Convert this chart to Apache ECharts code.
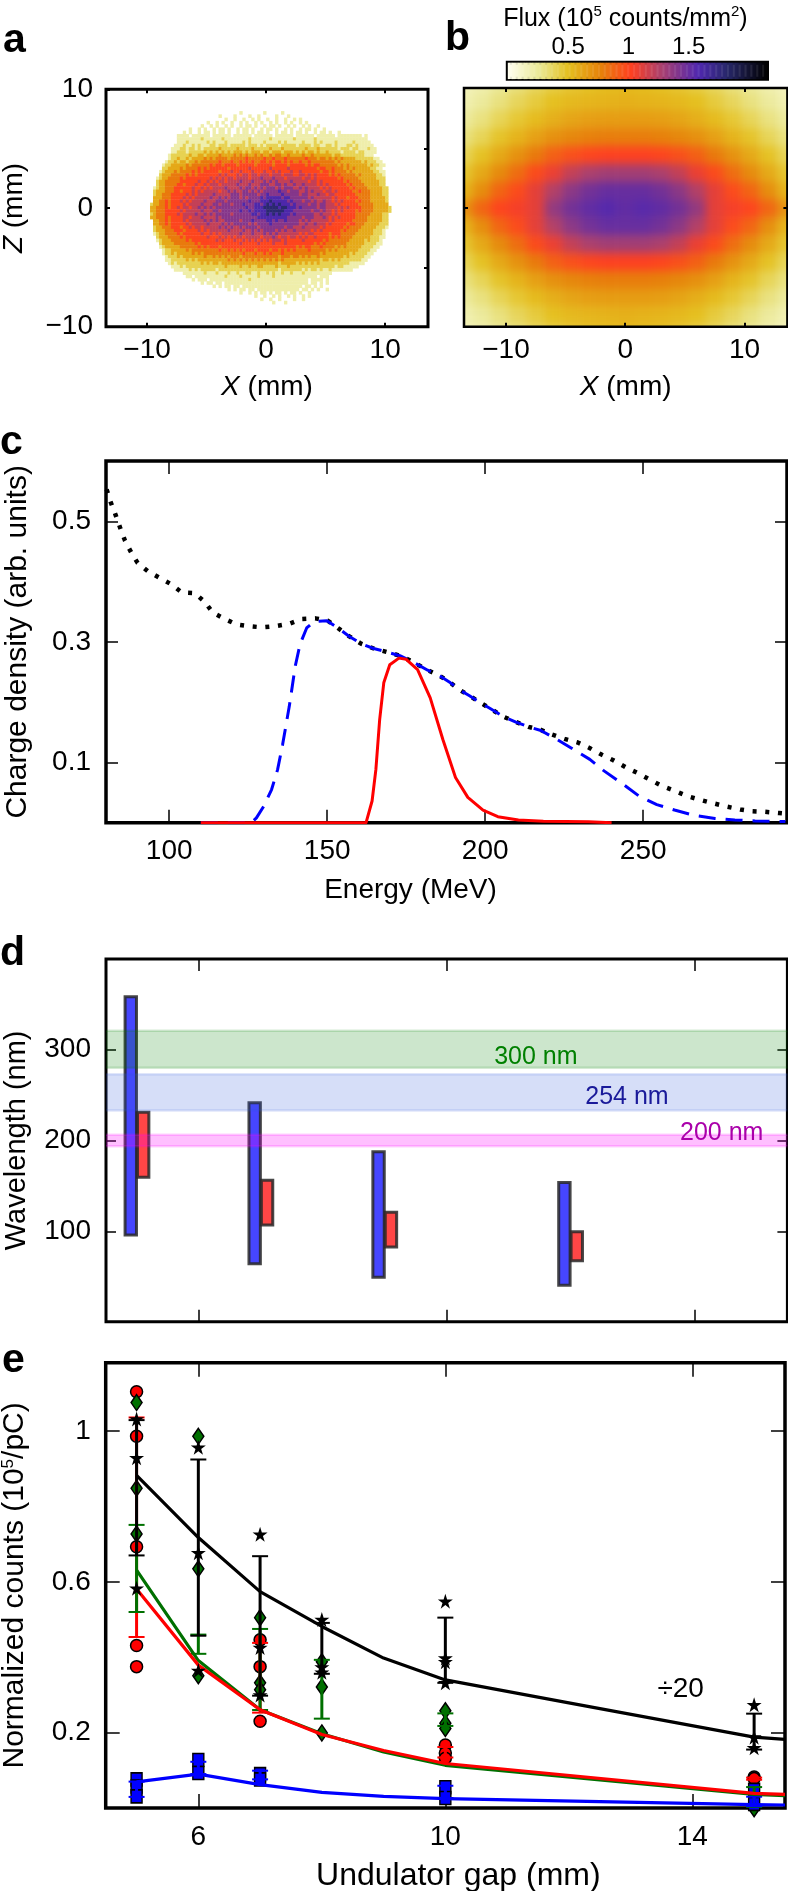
<!DOCTYPE html>
<html><head><meta charset="utf-8">
<style>html,body{margin:0;padding:0;background:#fff}#wrap{position:relative;width:788px;height:1891px;overflow:hidden}
#aclip{position:absolute;left:106px;top:89.3px;width:322px;height:237.4px;overflow:hidden}
#ainner{position:absolute;left:0;top:0;width:322px;height:237.4px;filter:blur(.6px)}
#bclip{position:absolute;left:464px;top:88px;width:323.4px;height:238.7px;overflow:hidden}
#binner{position:absolute;left:-26.55px;top:-31.35px;width:375.5px;height:302.7px;filter:blur(5px)}
#main{position:absolute;left:0;top:0;width:788px;height:1891px}</style>
<script src="https://cdn.jsdelivr.net/npm/echarts@6/dist/echarts.min.js"></script></head>
<body><div id="wrap"><div id="aclip"><div id="ainner"></div></div><div id="bclip"><div id="binner"></div></div><div id="main"></div></div>
<script>
// ---- data ----
const fluxStops=['#fffef2','#e9e78e','#e5c020','#e6820a','#ff4020','#a84070','#5028b0','#28286a','#000000'];
const fluxStopsAt=[0,0.28,0.5,0.77,1.02,1.28,1.58,1.82,2.15];
// panel a: levels (x 0.2 flux) on 0.25 x 0.276 mm cells, column 0 at x=-10 (blocks of ten columns), first row z=8, going down
const aRows=[
"0000000000 0000000000 0000000000 0100000001 0000010000 0000000000",
"0000000000 0000000000 0000100001 0000100100 0001000100 0000000000",
"0000000000 0000000000 0000001001 0010010100 1001001001 0100000000",
"0000000000 0000000000 1001010010 0101001010 0101001010 0101000000",
"0000000000 0000000010 0101001010 0101101001 0110100101 0010100100",
"0000000000 0000100101 0010110100 1011010010 1101001010 0101101001 0000000000",
"0000000000 0010100101 1010110100 1011010110 1001011010 1101001011 0100100000",
"0000000000 1111011111 1011111101 1111101111 1101111110 1111110111 1110111111 1101000000",
"0000000000 1111111121 1111121111 1111211111 1211111112 1111112111 1111111111 1111000000",
"0000000000 1112111111 2121112111 1121211112 1111212111 1121112121 1112111112 1111100000",
"0000000001 1121121211 1221222122 2221222121 2222122222 1222212211 2212111221 2111110000",
"0000000011 1221221212 2222322222 3222232222 2322232222 2223222322 2222122212 2111211000",
"0000000011 2221222223 2323232323 3323233323 3233323332 3232332322 3222212222 1221111000",
"0000000122 2222322332 3333433334 3434334343 3434433433 3343343333 3323322222 2221110000",
"0000000122 3223233334 3434444344 4445444445 4454445444 4445444344 3434343333 2222221100",
"0000001223 2332334344 4444544454 4545454455 4545545454 4544544444 4443433333 3323222110",
"0000012233 3334344444 4545545555 4555554555 5545555455 5554545544 4444343433 3333232211",
"0000022333 3434444545 4555555455 5555655555 5655555655 5555555455 4454443434 3333322110",
"0000123334 3444454545 5555455565 5655565556 5565655565 5655555545 5454444343 3333332211",
"0000233344 4445454555 5555656555 6566566566 6566656665 5665656555 5454544444 3433333221",
"0001233444 4545555555 5656565665 6666566676 6676665666 6656656555 5555454444 4333333222",
"0002334444 4555555655 6565665666 6766676667 6767666676 6666566565 5555554544 4433333322",
"0002334444 5545556556 5666566666 7666766677 7667767667 6676666565 6555555454 4443333322",
"0012334445 5555565565 6566667666 6767767676 7776767776 6767666656 5655555545 4444333332 2",
"0023334445 5455565656 6666566767 6677676767 7777877677 7667676665 6656555554 4544433332 2",
"0023344455 5556565666 6676666677 7677777677 8777787777 7677666766 5665555555 4444433332 2",
"0033344455 5565656666 6766767677 7676777787 8888878877 7777676666 6656555455 5444433333 2",
"0033445455 5656566667 6667776777 7777877788 8988888787 7767767667 6656565555 4544433333 2",
"0233445455 5565666676 6677677767 7787778878 9898988878 7777677677 6665655555 5444443333 3",
"0334445455 6566566767 6767777777 7778778889 9999899888 7877777677 6666565655 5544443333 32",
"0334445555 5656666676 6677677777 7877878888 9999998887 7777767767 6656565555 4544443333 32",
"0234445555 6566667667 6767777767 7777788788 9898988878 7777776676 6656555555 4444433332 2",
"0334445455 5566566676 6667677777 7777777888 8888888777 7767776667 6565655555 4444333332 2",
"0033445455 5565666667 6767667777 7677787777 8878778777 7676766666 6565555554 4444333332 2",
"0033445455 5556566666 7666676767 7777676777 7877777777 7667667666 5655555455 4443333322 2",
"0023344455 5455656656 6666767676 6767777677 7777776776 6676666656 5555554544 4433333222 1",
"0023334445 5545555656 5666666766 6676676767 7776767667 6666656565 5555545444 4333332221",
"0012334444 5455555565 5656566666 6766676667 6767666666 6565665555 5455544444 3333332221",
"0002333444 4545555555 6555656565 6656666656 6676566566 5656556555 5454544443 3333322211",
"0001233344 4445455555 5556565556 5565656565 6566656555 5565555554 5444444433 3332322210",
"0000233334 4444445455 5555555555 5655555655 5565556555 5555554545 4444444333 3332222110",
"0000123333 3444444545 4555455555 5555555555 5555555555 4545544454 4443434333 3322221100",
"0000012233 3334344444 4444544545 4545554555 5455454545 4444544444 3434333333 3222211000",
"0000012232 3333343434 4444444444 4454445445 4544454444 4444444434 3333333323 2222110000",
"0000001222 3233333334 3343434344 4344444444 4444344434 4343433433 3333332322 2221100000",
"0000001122 2223232333 3333333434 3434343434 3434343333 3333333323 3232322222 2211000000",
"0000000121 2222222232 3233233333 3333333333 3333233333 2323232322 2222222211 1110000000",
"0000000011 1212222222 2222223222 2322322332 2223222322 2222222222 2221221111 1000000000",
"0000000001 1111212122 2221222222 2222222222 2222122222 2212122121 1211111110 0000000000",
"0000000000 0011111112 1112111211 2112211211 2121121121 1121111111 1100000000",
"0000000000 0001101111 1111112111 1211111211 1121111111 1111111011 1000000000",
"0000000000 0000010111 0111111111 1111211111 1111111111 1111011110 1000000000",
"0000000000 0000000010 1101101111 1111111111 1111111111 1111011010 1000000000",
"0000000000 0000000000 0010101101 1011111111 1111111111 1101101010 0000000000",
"0000000000 0000000000 0000000101 0110110111 1111111111 1011010100 1000000000",
"0000000000 0000000000 0000000000 0100101011 0101101011 0100100000",
"0000000000 0000000000 0000000000 0000001001 0010100101 0010100000",
"0000000000 0000000000 0000000000 0000000010 0100100001 001",
"0000000000 0000000000 0000000000 0000000000 0010001000"];
// panel b: flux x100 on 1.5 mm cells, x from -15, z from 12 downward
const bRows=[
[10,12,15,20,26,32,37,41,44,46,47,46,44,41,37,32,26,20,15,12,10],
[12,15,19,25,31,37,42,46,49,51,52,51,49,46,42,37,31,25,19,15,12],
[15,18,24,31,38,44,50,53,55,56,57,56,55,53,50,44,38,31,24,18,15],
[19,24,31,39,46,52,58,62,65,66,66,66,65,62,58,52,46,39,31,24,19],
[26,31,39,48,56,64,71,75,78,79,79,79,78,75,71,64,56,48,39,31,26],
[32,39,49,60,70,80,90,96,100,102,102,102,100,96,90,80,70,60,49,39,32],
[38,47,60,73,85,98,108,120,127,130,130,130,127,120,108,98,85,73,60,47,38],
[44,56,72,88,98,110,125,138,146,150,150,150,146,138,125,110,98,88,72,56,44],
[50,70,88,100,105,110,135,146,152,156,152,155,152,146,135,110,105,100,88,70,50],
[44,56,72,88,98,110,125,138,146,150,150,150,146,138,125,110,98,88,72,56,44],
[38,47,60,73,85,98,108,120,127,130,130,130,127,120,108,98,85,73,60,47,38],
[32,39,49,60,70,80,90,96,100,102,102,102,100,96,90,80,70,60,49,39,32],
[26,31,39,48,56,64,71,75,78,79,79,79,78,75,71,64,56,48,39,31,26],
[19,24,31,39,46,52,58,62,65,66,66,66,65,62,58,52,46,39,31,24,19],
[15,18,24,31,38,44,50,53,55,56,57,56,55,53,50,44,38,31,24,18,15],
[12,15,19,25,31,37,42,46,49,51,52,51,49,46,42,37,31,25,19,15,12],
[10,12,15,20,26,32,37,41,44,46,47,46,44,41,37,32,26,20,15,12,10]];
const cbTicks=[0.5,1,1.5];
const abXTicks=[-10,0,10], abYTicks=[-10,0,10], aRightTicks=[-5,0,5];
// panel c
const cXTicks=[100,150,200,250], cYTicks=[0.1,0.3,0.5];
const chargeAll=[[80.2,.553],[81.4,.533],[83,.511],[84.5,.489],[86,.468],[88,.448],[90,.431],[93.3,.417],[97,.406],[100.5,.396],[104,.382],[108,.381],[111.3,.366],[113.7,.349],[117.2,.339],[121.2,.329],[125.2,.326],[129.5,.324],[133.6,.326],[138,.330],[142,.338],[146.2,.339],[150.2,.335],[153.9,.321],[157,.309],[160.7,.297],[164.7,.289],[169,.283],[173,.277],[176.7,.268],[181.8,.253],[185.8,.243],[189,.232],[192,.220],[194.9,.211],[198.5,.199],[201.7,.189],[205.7,.176],[209.7,.167],[213.7,.159],[217.6,.154],[221.2,.146],[225.1,.139],[229.3,.133],[233,.124],[236.8,.113],[240.4,.104],[244.8,.091],[248.4,.082],[251.9,.072],[255.9,.061],[259.9,.053],[264,.044],[268,.038],[272.3,.032],[276.2,.027],[280.7,.022],[284.6,.019],[288.6,.018],[293,.016],[295.3,.015]];
const chargeBlue=[[110,0],[126,0],[127.6,.008],[130,.028],[132.4,.055],[134.3,.088],[135.9,.130],[138,.193],[139.9,.260],[141.4,.296],[143.5,.323],[145.9,.334],[149.9,.335],[153.9,.321],[157,.309],[160.7,.297],[164.7,.289],[169,.283],[173,.277],[176.7,.268],[181.8,.253],[185.8,.243],[189,.232],[192,.220],[194.9,.211],[198.5,.199],[201.7,.189],[205.7,.176],[209.7,.167],[213.7,.159],[217.6,.153],[222.4,.139],[227.2,.124],[233.1,.105],[237.6,.086],[243.6,.064],[248.7,.044],[254.3,.030],[259.9,.021],[266.3,.012],[272.7,.007],[279,.0045],[285.4,.003],[295,.002]];
const chargeRed=[[110,0],[162.3,0],[164.2,.036],[165.4,.088],[166.6,.171],[167.9,.232],[169.8,.262],[172.7,.273],[175,.271],[178.6,.254],[182.6,.207],[186.6,.138],[190.6,.075],[194.5,.042],[199.3,.021],[204,.010],[210.5,.0045],[218.4,.0023],[232.7,.0015],[240,0]];
// panel d  [gap, low, high]
const gapTicks=[6,10,14];
const dYTicks=[100,200,300];
const dBlueBars=[[4.9,96.4,357.7],[6.9,64.9,241.4],[8.9,50,187.7],[11.9,41.2,154]];
const dRedBars=[[5.1,159.6,230.9],[7.1,107.3,156.3],[9.1,83.2,121.3],[12.1,68.2,100]];
const bandGreen=[279.8,320.4], bandBlue=[233,272.6], bandPink=[193.6,206.4];
const bandLabels=[[11.44,291.5,'300 nm','#008000'],[12.91,247.7,'254 nm','#1a1a9a'],[14.44,208,'200 nm','#aa00aa']];
// panel e
const eYTicks=[0.2,0.6,1];
const eBlack=[[5,.8825],[6,.7175],[7,.574],[8,.4816],[9,.3977],[10,.3398],[12,.279],[15,.188],[15.5,.182]];
const eGreen=[[5,.631],[6,.391],[7,.2606],[8,.197],[9,.1487],[10,.1133],[15,.0359],[15.5,.033]];
const eRed=[[5,.581],[6,.379],[7,.2606],[8,.195],[9,.1524],[10,.118],[15,.0387],[15.5,.036]];
const eBlue=[[5,.0695],[6,.09],[7,.062],[8,.0415],[9,.031],[10,.0247],[15,.0089],[15.5,.008]];
const errBlack=[[5,.67,1.029],[6,.457,.9245],[7,.298,.668],[8,.356,.491],[10,.332,.505],[15,.155,.2503]];
const errGreen=[[5,.52,.751],[6,.409,.46],[7,.26,.475],[8,.237,.393],[10,.2177,.251],[15,.003,.0555]];
const errRed=[[5,.4536,1.036],[7,.253,.438],[10,.134,.1618],[15,.075,.0806]];
const errBlue=[[5,.0294,.07],[6,.09,.1226],[7,.076,.099],[10,.0266,.059],[15,.005,.03]];
const ptCircle=[[5,1.104],[5,.986],[5,.693],[5,.431],[5,.375],[7,.446],[7,.375],[7,.23],[10,.167],[10,.146],[10,.132],[15,.0825],[15,.078]];
const ptDiamond=[[5,1.0755],[5,.848],[5,.727],[6,.986],[6,.6345],[6,.351],[7,.505],[7,.332],[7,.3137],[8,.388],[8,.321],[8,.199],[10,.258],[10,.225],[10,.211],[15,.0387],[15,.011],[15,-.002]];
const ptSquare=[[5,.076],[5,.057],[5,.031],[6,.1273],[6,.0928],[7,.09],[7,.076],[10,.055],[10,.0266],[15,.048],[15,.011]];
const ptStar=[[5,1.032],[5,.929],[5,.583],[6,.957],[6,.677],[6,.365],[7,.726],[7,.4256],[7,.2998],[8,.5],[8,.374],[8,.36],[10,.5487],[10,.3977],[10,.388],[10,.3324],[15,.2737],[15,.188],[15,.16]];

// ---- helpers ----
const FONT='"Liberation Sans"';
const starPath='path://M0,-10 L2.24,-3.09 L9.51,-3.09 L3.62,1.18 L5.88,8.09 L0,3.8 L-5.88,8.09 L-3.62,1.18 L-9.51,-3.09 L-2.24,-3.09 Z';
const minus=v=>v<0?'\u2212'+(-v):String(v);
const cell=(w,h)=>(p,api)=>{const c=api.coord([api.value(0),api.value(1)]),s=api.size([w,h]);
  return {type:'rect',shape:{x:c[0]-s[0]/2,y:c[1]-s[1]/2,width:s[0]+.4,height:s[1]+.4},style:{fill:api.visual('color')}};};
function fluxColors(){ // evenly spaced colour list for visualMap from the fluxStops table
  const out=[];for(let k=0;k<=86;k++){const v=k*0.025;let i=0;while(i<fluxStopsAt.length-2&&v>fluxStopsAt[i+1])i++;
    const t=(v-fluxStopsAt[i])/(fluxStopsAt[i+1]-fluxStopsAt[i]);
    const a=parseInt(fluxStops[i].slice(1),16),b=parseInt(fluxStops[i+1].slice(1),16);
    const m=s=>Math.round(((a>>s)&255)*(1-t)+((b>>s)&255)*t);
    out.push('rgb('+m(16)+','+m(8)+','+m(0)+')');}
  return out;}
const CM=fluxColors();
const aData=[];aRows.forEach((r,j)=>{const s=r.replace(/ /g,'');for(let i=0;i<s.length;i++){const d=+s[i];if(d>0)aData.push([-10+i*.25+.125,8-j*.276,d*.2]);}});
const bData=[];bRows.forEach((r,j)=>r.forEach((v,i)=>bData.push([-15+i*1.5,12-j*1.5,v/100])));
const cbData=[];for(let k=0;k<215;k++)cbData.push([k*.01+.005,.5,k*.01+.005]);

function axisPair(g,type,o){ // builds main + mirrored axis
  const ma={gridIndex:g,type:'value',min:o.min,max:o.max,splitLine:{show:false},axisLine:{show:false,onZero:false},
    axisTick:{show:true,inside:true,length:o.tick,lineStyle:{color:'#000',width:o.tw||2},customValues:o.ticks},
    axisLabel:{show:!o.noLabel,customValues:o.ticks,formatter:minus,margin:o.margin,fontFamily:FONT,fontSize:o.fs||28,color:'#000',hideOverlap:false,showMinLabel:true,showMaxLabel:true},
    position:type==='x'?'bottom':'left',name:o.name,nameLocation:'middle',nameGap:o.gap,nameRotate:type==='y'?90:0,
    nameTextStyle:{fontFamily:FONT,fontSize:o.nfs||28,color:'#000',padding:o.pad||0,rich:{i:{fontStyle:'italic',fontFamily:FONT,fontSize:o.nfs||28},s:{fontFamily:FONT,fontSize:17,verticalAlign:'top',lineHeight:30}}}};
  const mb={gridIndex:g,type:'value',min:o.min,max:o.max,splitLine:{show:false},axisLine:{show:false,onZero:false},
    axisTick:{show:true,inside:true,length:o.tick,lineStyle:{color:'#000',width:o.tw||2},customValues:o.ticks2||o.ticks},
    axisLabel:{show:false},position:type==='x'?'top':'right'};
  return [ma,mb];
}
const grids=[
 {left:106,top:89.3,width:322,height:237.4,borderWidth:3},
 {left:464,top:88,width:323.4,height:238.7,borderWidth:2.5},
 {left:507.8,top:62.7,width:259.2,height:16,borderWidth:4},
 {left:106,top:461,width:681,height:361.7,borderWidth:3.5},
 {left:106,top:959,width:681.4,height:362.7,borderWidth:3},
 {left:105.7,top:1362.8,width:679.3,height:445.2,borderWidth:3.5}
].map(g=>Object.assign(g,{show:true,borderColor:'#000',containLabel:false,outerBoundsMode:'none'}));

const xAxes=[...axisPair(0,'x',{min:-13.45,max:13.6,ticks:abXTicks,tick:4,margin:10,name:'{i|X} (mm)',gap:47}),
 ...axisPair(1,'x',{min:-13.52,max:13.6,ticks:abXTicks,tick:4,margin:10,name:'{i|X} (mm)',gap:47}),
 ...axisPair(3,'x',{min:80,max:295.5,ticks:cXTicks,tick:13,margin:15,name:'Energy (MeV)',gap:54,tw:1.5,pad:[0,72,0,0]}),
 ...axisPair(4,'x',{min:4.5,max:15.5,ticks:gapTicks,tick:12,noLabel:true,tw:1.5}),
 ...axisPair(5,'x',{min:4.5,max:15.5,ticks:gapTicks,tick:14,margin:15,name:'Undulator gap (mm)',gap:52,tw:1.5,nfs:32,pad:[0,0,0,26]}),
 {gridIndex:2,type:'value',min:0,max:2.15,position:'top',splitLine:{show:false},axisLine:{show:false,onZero:false},axisTick:{show:false},
  axisLabel:{customValues:cbTicks,margin:3,fontFamily:FONT,fontSize:24,color:'#000'},
  name:'Flux (10{s|5} counts/mm{s|2})',nameLocation:'middle',nameGap:30,
  nameTextStyle:{fontFamily:FONT,fontSize:25,color:'#000',padding:[0,24,0,0],rich:{s:{fontFamily:FONT,fontSize:15,verticalAlign:'top',lineHeight:28}}}}];
const yAxes=[...axisPair(0,'y',{min:-10,max:10,ticks:abYTicks,ticks2:aRightTicks,tick:4,margin:13,name:'{i|Z} (mm)',gap:78}),
 ...axisPair(1,'y',{min:-10,max:10,ticks:[0],ticks2:[0],tick:4,noLabel:true}),
 ...axisPair(3,'y',{min:0,max:.6,ticks:cYTicks,tick:12,margin:15,name:'Charge density (arb. units)',gap:73,tw:1.5,nfs:30}),
 ...axisPair(4,'y',{min:1.3,max:399,ticks:dYTicks,tick:10,margin:15,name:'Wavelength (nm)',gap:75,tw:1.5,nfs:29}),
 ...axisPair(5,'y',{min:0,max:1.181,ticks:eYTicks,tick:14,margin:15,name:'Normalized counts (10{s|5}/pC)',gap:76,tw:1.5,nfs:30}),
 {gridIndex:2,type:'value',min:0,max:1,show:false}];
// axis indices: grid0 -> 0/1, grid1 -> 2/3, c -> 4/5, d -> 6/7, e -> 8/9, colorbar -> 10
const series=[];
const cs=(o)=>{series.push(Object.assign({animation:false,silent:true},o));};
cs({type:'custom',xAxisIndex:10,yAxisIndex:10,data:cbData,renderItem:cell(.01,1),encode:{x:0,y:1},z:1});
// c
const ln=(x,y,data,color,w,dash,z)=>({type:'line',xAxisIndex:x,yAxisIndex:y,data,symbol:'none',showSymbol:false,z:z||3,lineStyle:{color,width:w,type:dash||'solid',cap:'butt',join:'round'}});
cs(ln(4,4,chargeAll,'#000',4.5,[4,8.7]));
cs(ln(4,4,chargeBlue,'#0000ff',3,[17,10]));
cs(ln(4,4,chargeRed,'#ff0000',3));
// d
const barsR=(fill)=>(p,api)=>{const a=api.coord([api.value(0),api.value(2)]),b=api.coord([api.value(0),api.value(1)]),w=api.size([.2,0])[0];
  return {type:'rect',shape:{x:a[0]-w/2+.5,y:a[1],width:w-1,height:b[1]-a[1]},style:{fill,stroke:'rgba(40,40,40,.85)',lineWidth:3}};};
cs({type:'custom',xAxisIndex:6,yAxisIndex:6,data:dBlueBars,renderItem:barsR('#4646ff'),encode:{x:0,y:[1,2]},z:2});
cs({type:'custom',xAxisIndex:6,yAxisIndex:6,data:dRedBars,renderItem:barsR('#ff4646'),encode:{x:0,y:[1,2]},z:2});
const band=(rng,fill,edge)=>({type:'custom',xAxisIndex:6,yAxisIndex:6,data:[[4.5,rng[0],15.5,rng[1]]],z:3,encode:{x:[0,2],y:[1,3]},
  renderItem:(p,api)=>{const a=api.coord([api.value(0),api.value(3)]),b=api.coord([api.value(2),api.value(1)]);
   return {type:'group',children:[{type:'rect',shape:{x:a[0],y:a[1],width:b[0]-a[0],height:b[1]-a[1]},style:{fill}},
    {type:'line',shape:{x1:a[0],y1:a[1],x2:b[0],y2:a[1]},style:{stroke:edge,lineWidth:2.5}},
    {type:'line',shape:{x1:a[0],y1:b[1],x2:b[0],y2:b[1]},style:{stroke:edge,lineWidth:2.5}}]};}});
cs(band(bandGreen,'rgba(0,128,0,.2)','rgba(0,128,0,.17)'));
cs(band(bandBlue,'rgba(50,90,220,.2)','rgba(50,90,220,.15)'));
cs(band(bandPink,'rgba(255,0,255,.25)','rgba(255,0,255,.18)'));
const txt=(xi,yi,data,size,z)=>({type:'custom',xAxisIndex:xi,yAxisIndex:yi,data,z:z||6,encode:{x:0,y:1},
  renderItem:(p,api)=>{const c=api.coord([api.value(0),api.value(1)]);const d=data[p.dataIndex];
   return {type:'text',x:c[0],y:c[1],style:{text:d[2],fill:d[3],fontFamily:FONT,fontSize:size,align:'center',verticalAlign:'middle'}};}});
cs(txt(6,6,bandLabels,25));
// e
const scat=(data,symbol,size,color)=>({type:'scatter',xAxisIndex:8,yAxisIndex:8,data,symbol,symbolSize:size,clip:false,z:3,itemStyle:{color,borderColor:'#000',borderWidth:1.5,opacity:1}});
cs(scat(ptCircle,'circle',12,'#ff0000'));
cs(scat(ptDiamond,'diamond',[11,16],'#007000'));
cs(scat(ptSquare,'rect',[11,13],'#0000ff'));
const err=(data,color)=>({type:'custom',xAxisIndex:8,yAxisIndex:8,data,z:4,clip:false,encode:{x:0,y:[1,2]},
  renderItem:(p,api)=>{const t=api.coord([api.value(0),api.value(2)]),b=api.coord([api.value(0),api.value(1)]);
   return {type:'group',children:[{type:'line',shape:{x1:t[0],y1:t[1],x2:t[0],y2:b[1]},style:{stroke:color,lineWidth:3}},
    {type:'line',shape:{x1:t[0]-8,y1:t[1],x2:t[0]+8,y2:t[1]},style:{stroke:color,lineWidth:2}},
    {type:'line',shape:{x1:t[0]-8,y1:b[1],x2:t[0]+8,y2:b[1]},style:{stroke:color,lineWidth:2}}]};}});
cs(err(errRed,'#ff0000'));cs(err(errGreen,'#007000'));cs(err(errBlue,'#0000ff'));cs(err(errBlack,'#000'));
cs({type:'scatter',xAxisIndex:8,yAxisIndex:8,data:ptStar,symbol:starPath,symbolSize:15,clip:false,z:5,itemStyle:{color:'#000',borderWidth:0,opacity:1}});
cs(ln(8,8,eBlack,'#000',3.2,null,5));
cs(ln(8,8,eBlue,'#0000ff',3.2,null,5));
cs(ln(8,8,eGreen,'#007000',3.2,null,5));
cs(ln(8,8,eRed,'#ff0000',3.2,null,5));
cs(txt(8,8,[[13.81,.314,'\u00f720','#000']],28));

const letters=[['a',3,58],['b',445,56],['c',0,460],['d',0,971],['e',2,1378]].map(l=>({type:'text',left:l[1],top:l[2]-38,
  style:{text:l[0],fill:'#000',fontFamily:FONT,fontWeight:'bold',fontSize:41}}));

const ch=echarts.init(document.getElementById('main'),null,{renderer:'canvas'});
ch.setOption({animation:false,backgroundColor:'transparent',grid:grids,xAxis:xAxes,yAxis:yAxes,
  visualMap:[{show:false,type:'continuous',min:0,max:2.15,dimension:2,seriesIndex:[0],inRange:{color:CM}}],
  series,graphic:letters});
const chA=echarts.init(document.getElementById('ainner'),null,{renderer:'canvas'});
chA.setOption({animation:false,grid:{left:0,top:0,right:0,bottom:0,outerBoundsMode:'none'},
  xAxis:{type:'value',min:-13.45,max:13.6,show:false},yAxis:{type:'value',min:-10,max:10,show:false},
  visualMap:{show:false,type:'continuous',min:0,max:2.15,dimension:2,inRange:{color:CM}},
  series:[{type:'custom',data:aData,renderItem:cell(.25,.276),encode:{x:0,y:1},animation:false,silent:true}]});
const chB=echarts.init(document.getElementById('binner'),null,{renderer:'canvas'});
chB.setOption({animation:false,grid:{left:0,top:0,right:0,bottom:0,outerBoundsMode:'none'},
  xAxis:{type:'value',min:-15.75,max:15.75,show:false},yAxis:{type:'value',min:-12.75,max:12.75,show:false},
  visualMap:{show:false,type:'continuous',min:0,max:2.15,dimension:2,inRange:{color:CM}},
  series:[{type:'custom',data:bData,renderItem:cell(1.5,1.5),encode:{x:0,y:1},animation:false,silent:true}]});
</script></body></html>
